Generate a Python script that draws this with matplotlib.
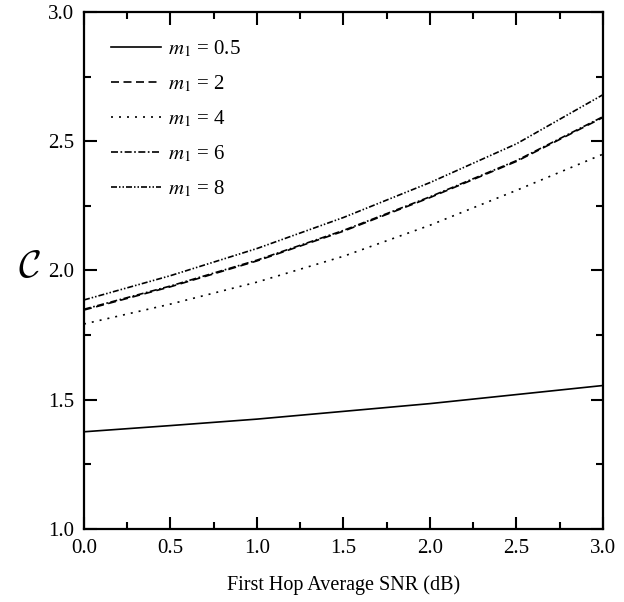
import matplotlib
matplotlib.use("Agg")
import matplotlib.pyplot as plt
from matplotlib.ticker import MultipleLocator

plt.rcParams['font.family'] = 'Liberation Serif'
plt.rcParams['mathtext.fontset'] = 'stix'

# data
snr = [0.0, 0.5, 1.0, 1.5, 2.0, 2.5, 3.0]
cap_m05 = [1.376, 1.40, 1.425, 1.455, 1.485, 1.52, 1.555]
cap_m2 = [1.847, 1.937, 2.037, 2.152, 2.282, 2.422, 2.592]
cap_m4 = [1.793, 1.87, 1.955, 2.055, 2.175, 2.31, 2.45]
cap_m6 = [1.850, 1.94, 2.04, 2.155, 2.285, 2.425, 2.595]
cap_m8 = [1.886, 1.98, 2.085, 2.205, 2.34, 2.49, 2.68]
labels = ['0.5', '2', '4', '6', '8']

fig = plt.figure(figsize=(6.24, 6.02), dpi=100)
ax = fig.add_axes([0.1346, 0.1213, 0.8317, 0.8588])

styles = ['-',
          (0, (4.8, 2.7)),
          (0, (1.2, 3.6)),
          (0, (4.2, 1.5, 1.0, 1.5)),
          (0, (3.6, 1.2, 0.9, 1.2, 0.9, 1.2))]
series = [cap_m05, cap_m2, cap_m4, cap_m6, cap_m8]
for vals, ls, lab in zip(series, styles, labels):
    ax.plot(snr, vals, color='black', linestyle=ls, linewidth=1.2,
            label='$m_1$ = ' + lab)

ax.set_xlim(0, 3)
ax.set_ylim(1.0, 3.0)
ax.xaxis.set_major_locator(MultipleLocator(0.5))
ax.xaxis.set_minor_locator(MultipleLocator(0.25))
ax.yaxis.set_major_locator(MultipleLocator(0.5))
ax.yaxis.set_minor_locator(MultipleLocator(0.25))
ax.tick_params(which='both', direction='in', top=True, right=True, width=1.5)
ax.tick_params(which='major', length=9, labelsize=15, pad=7)
ax.tick_params(which='minor', length=5)
for sp in ax.spines.values():
    sp.set_linewidth(1.6)

ax.set_xlabel('First Hop Average SNR (dB)', fontsize=14.5, labelpad=13)
ax.set_ylabel(r'$\mathcal{C}$', fontsize=28, rotation=0,
              math_fontfamily='cm')
ax.yaxis.set_label_coords(-0.105, 0.47)

ax.legend(loc='upper left', frameon=False, fontsize=15, handlelength=2.4,
          handletextpad=0.35, labelspacing=0.68, borderaxespad=0.9)

fig.savefig('out.png', dpi=100)
